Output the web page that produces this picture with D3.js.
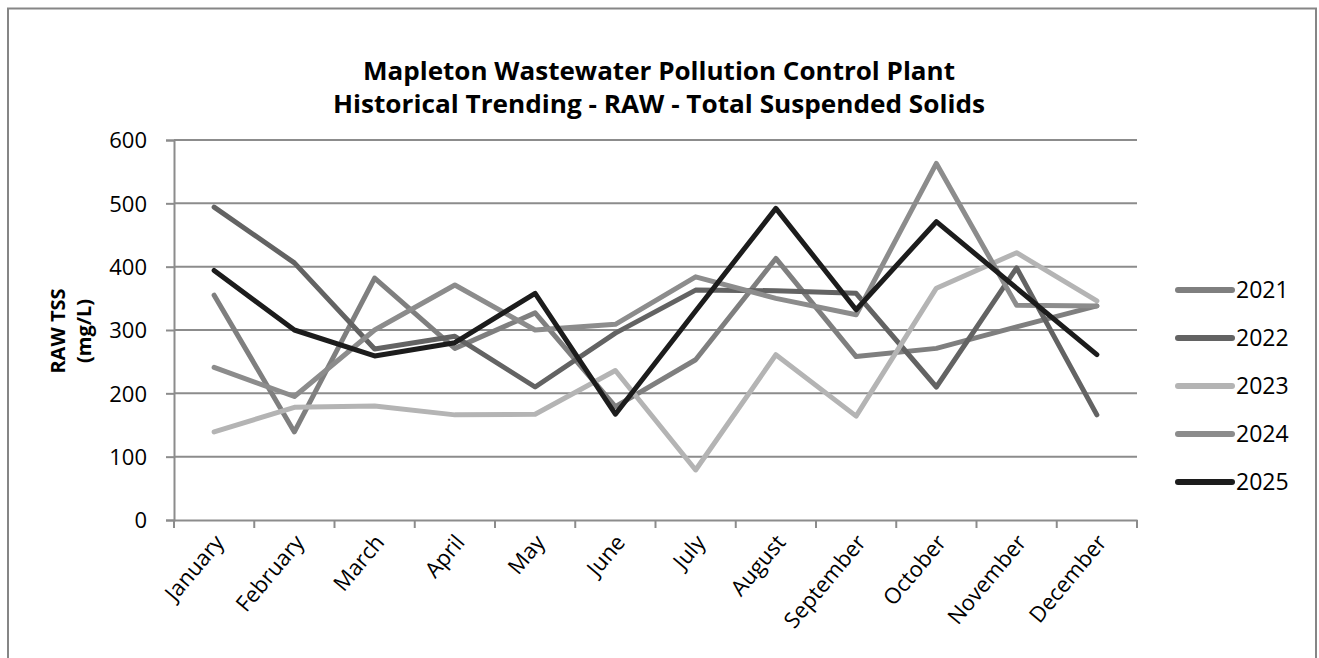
<!DOCTYPE html>
<html>
<head>
<meta charset="utf-8">
<script src="https://cdn.jsdelivr.net/npm/d3@7"></script>
<style>
  html, body { margin: 0; padding: 0; background: #fff; }
  svg { display: block; }
  text { font-family: "Open Sans", "Liberation Sans", sans-serif; }
</style>
</head>
<body>
<svg id="chart" width="1319" height="658"></svg>
<script>
const months = ["January","February","March","April","May","June","July","August","September","October","November","December"];
const yTicks = [0, 100, 200, 300, 400, 500, 600];
const seriesNames = ["2021", "2022", "2023", "2024", "2025"];
const v2021 = [355, 139, 382, 271, 327, 179, 253, 413, 258, 271, 305, 338];
const v2022 = [494, 406, 270, 290, 210, 295, 363, 362, 358, 210, 398, 166];
const v2023 = [139, 178, 180, 166, 167, 236, 79, 261, 164, 366, 422, 346];
const v2024 = [241, 195, 300, 371, 300, 309, 384, 350, 324, 563, 339, 338];
const v2025 = [394, 300, 259, 280, 358, 167, 330, 492, 332, 471, 366, 261];
const seriesColors = ["#7f7f7f", "#636363", "#b4b4b4", "#8c8c8c", "#1c1c1c"];
const titleLines = ["Mapleton Wastewater Pollution Control Plant", "Historical Trending - RAW - Total Suspended Solids"];

const series = [v2021, v2022, v2023, v2024, v2025].map((vals, i) => ({ name: seriesNames[i], values: vals, color: seriesColors[i] }));

const svg = d3.select("#chart");

// frame
svg.append("path")
  .attr("d", "M8,660 L8,8.5 L1316,8.5 L1316,660")
  .attr("fill", "none").attr("stroke", "#868686").attr("stroke-width", 2);

const pLeft = 174, pRight = 1137, pTop = 140, pBottom = 520;

const x = d3.scaleBand().domain(months).range([pLeft, pRight]);
const y = d3.scaleLinear().domain([0, 600]).range([pBottom, pTop]);

// gridlines
svg.append("g").selectAll("line").data(yTicks.filter(t => t > 0)).join("line")
  .attr("x1", pLeft).attr("x2", pRight)
  .attr("y1", d => y(d)).attr("y2", d => y(d))
  .attr("stroke", "#8c8c8c").attr("stroke-width", 2);

// y axis
const yAxis = svg.append("g").attr("transform", `translate(${pLeft},0)`)
  .call(d3.axisLeft(y).tickValues(yTicks).tickSize(8).tickPadding(19));
yAxis.select(".domain").attr("stroke", "#8c8c8c").attr("stroke-width", 2);
yAxis.selectAll(".tick line").attr("stroke", "#8c8c8c").attr("stroke-width", 2);
yAxis.selectAll(".tick text").attr("font-size", 22).attr("fill", "#000")
  .attr("font-family", "Open Sans").attr("dy", "0.36em");

// x axis
const xAxis = svg.append("g").attr("transform", `translate(0,${pBottom})`)
  .call(d3.axisBottom(x).tickSize(0).tickPadding(0));
xAxis.select(".domain").attr("stroke", "#8c8c8c").attr("stroke-width", 2);
xAxis.selectAll(".tick text")
  .attr("font-size", 22).attr("fill", "#000").attr("font-family", "Open Sans")
  .attr("text-anchor", "end")
  .attr("transform", "translate(5,18) rotate(-50)")
  .attr("dy", "0.35em");
// boundary ticks
const bounds = months.map(m => x(m)).concat([pRight]);
svg.append("g").selectAll("line").data(bounds).join("line")
  .attr("x1", d => d).attr("x2", d => d)
  .attr("y1", pBottom).attr("y2", pBottom + 8)
  .attr("stroke", "#8c8c8c").attr("stroke-width", 2);

// lines
const line = d3.line()
  .x((d, i) => x(months[i]) + x.bandwidth() / 2)
  .y(d => y(d));
svg.append("g").selectAll("path").data(series).join("path")
  .attr("d", d => line(d.values))
  .attr("fill", "none")
  .attr("stroke", d => d.color)
  .attr("stroke-width", 5)
  .attr("stroke-linejoin", "round")
  .attr("stroke-linecap", "round");

// legend
const lg = svg.append("g");
const legY = d3.scalePoint().domain(seriesNames).range([290, 482]);
lg.selectAll("line").data(series).join("line")
  .attr("x1", 1178).attr("x2", 1232)
  .attr("y1", d => legY(d.name)).attr("y2", d => legY(d.name))
  .attr("stroke", d => d.color).attr("stroke-width", 6).attr("stroke-linecap", "round");
lg.selectAll("text").data(series).join("text")
  .attr("x", 1236).attr("y", d => legY(d.name))
  .attr("dy", "0.36em")
  .attr("font-size", 23).attr("fill", "#000")
  .text(d => d.name);

// title
const tWidths = [592, 652];
svg.append("g").selectAll("text").data(titleLines).join("text")
  .attr("x", 659).attr("y", (d, i) => 80 + i * 33)
  .attr("text-anchor", "middle")
  .attr("font-size", 25).attr("font-weight", "bold").attr("fill", "#000")
  .attr("textLength", (d, i) => tWidths[i]).attr("lengthAdjust", "spacingAndGlyphs")
  .text(d => d);

// y axis title
const yt = svg.append("text")
  .attr("transform", "translate(70,331) rotate(-90)")
  .attr("text-anchor", "middle")
  .attr("font-size", 20).attr("font-weight", "bold").attr("fill", "#000");
yt.append("tspan").attr("x", 0).attr("y", -5).text("RAW TSS");
yt.append("tspan").attr("x", 0).attr("y", 21).text("(mg/L)");
</script>
</body>
</html>
